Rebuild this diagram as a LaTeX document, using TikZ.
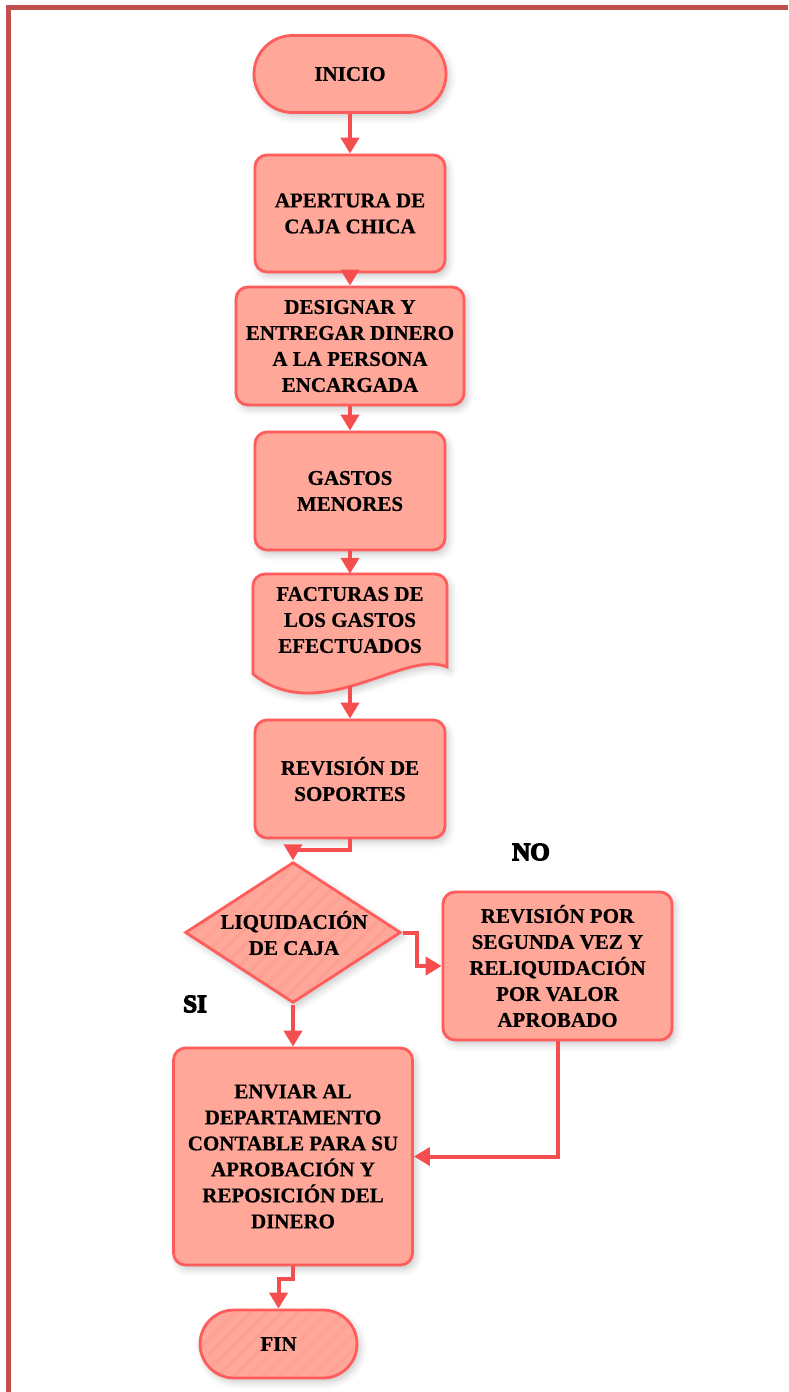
\documentclass[tikz,border=0pt]{standalone}
\usepackage{fontspec}
\setmainfont{Liberation Serif}[BoldFeatures={FakeBold=0.6}]
\newfontfamily\heavyfont{Liberation Serif}[BoldFeatures={FakeBold=5}]
\usetikzlibrary{shapes.geometric,shapes.misc,arrows.meta,shadows.blur,patterns.meta,calc}

\definecolor{framered}{HTML}{C0504D}
\definecolor{boxfill}{HTML}{FFA899}
\definecolor{boxline}{HTML}{FF5C5C}
\definecolor{flow}{HTML}{F44E4E}
\definecolor{stripe}{HTML}{FCA193}

\tikzset{
  base/.style={draw=boxline, fill=boxfill, line width=2.8pt,
    blur shadow={shadow xshift=3pt, shadow yshift=-4pt,
                 shadow blur radius=7pt, shadow opacity=22},
    align=center, inner sep=0pt},
  procbox/.style={base, rectangle, rounded corners=12pt},
  termbox/.style={base, rounded rectangle},
  decbox/.style={base, diamond},
  striped/.style={preaction={fill=boxfill},
    pattern={Lines[angle=45,distance=11pt,line width=3.5pt]},
    pattern color=stripe},
  txt/.style={font=\bfseries\fontsize{21}{26}\selectfont, align=center, inner sep=0pt},
  answer/.style={font=\heavyfont\bfseries\fontsize{25}{30}\selectfont, inner sep=0pt},
  flowline/.style={draw=flow, line width=4pt,
    -{Triangle[length=16pt,width=18pt]}},
  frameline/.style={draw=framered, line width=5pt},
}

\begin{document}
\begin{tikzpicture}[x=1pt, y=-1pt]
  \useasboundingbox (0,0) rectangle (788,1392);

  % outer frame (left and top edges)
  \draw[frameline] (8.5,1392) -- (8.5,7.5) -- (788,7.5);

  % steps of the petty-cash procedure
  \node[termbox, minimum width=192pt, minimum height=77pt] (ini) at (350,74) {};
  \node[txt] (init) at (ini) {INICIO};

  \node[procbox, minimum width=190pt, minimum height=117pt] (ape) at (350,213.5) {};
  \node[txt] (apet) at (ape) {APERTURA DE\\CAJA CHICA};

  \node[procbox, minimum width=228pt, minimum height=118pt] (des) at (350,346) {};
  \node[txt] (dest) at (des) {DESIGNAR Y\\ENTREGAR DINERO\\A LA PERSONA\\ENCARGADA};

  \node[procbox, minimum width=190pt, minimum height=118pt] (gas) at (350,491) {};
  \node[txt] (gast) at (gas) {GASTOS\\MENORES};

  % document shape for the invoices
  \node[minimum width=194pt, minimum height=120pt, inner sep=0pt] (fac) at (350,634) {};
  \path[base] [rounded corners=12pt] (253,674) -- (253,574) -- (447,574)
        [sharp corners] -- (447,667)
        .. controls (405,648) and (320,728) .. (253,674) -- cycle;
  \coordinate (facb) at (350,686);
  \node[txt] (fact) at (350,620) {FACTURAS DE\\LOS GASTOS\\EFECTUADOS};

  \node[procbox, minimum width=190pt, minimum height=118pt] (rev) at (350,779) {};
  \node[txt] (revt) at (rev) {REVISIÓN DE\\SOPORTES};

  \node[decbox, striped, minimum width=216pt, minimum height=141pt] (dec) at (293,932.5) {};
  \node[txt] (dect) at (294,933) {LIQUIDACIÓN\\DE CAJA};

  \node[procbox, minimum width=229pt, minimum height=148pt] (rep) at (557.5,966) {};
  \node[txt] (rept) at (rep) {REVISIÓN POR\\SEGUNDA VEZ Y\\RELIQUIDACIÓN\\POR VALOR\\APROBADO};

  \node[procbox, minimum width=239pt, minimum height=217pt] (env) at (293,1156.5) {};
  \node[txt] (envt) at (env) {ENVIAR AL\\DEPARTAMENTO\\CONTABLE PARA SU\\APROBACIÓN Y\\REPOSICIÓN DEL\\DINERO};

  \node[termbox, striped, minimum width=157pt, minimum height=68pt] (fin) at (278.5,1344) {};
  \node[txt] (fint) at (fin) {FIN};

  % branch answers
  \node[answer] (no) at (531,852) {NO};
  \node[answer] (si) at (195,1004) {SI};

  % connectors
  \draw[flowline] (ini.south) -- (ape.north);
  \draw[flowline] (ape.south) -- (des.north);
  \draw[flowline] (des.south) -- (gas.north);
  \draw[flowline] (gas.south) -- (fac.north);
  \draw[flowline] (facb) -- (rev.north);
  \draw[flowline] (rev.south) -- ++(0,11) -| (dec.north);
  \draw[flowline] (dec.east) -- ++(14,0) |- (rep.west);
  \draw[flowline] (dec.south) -- (env.north);
  \draw[flowline] (rep.south) |- (env.east);
  \draw[flowline] (env.south) -- ++(0,13) -| (fin.north);
\end{tikzpicture}
\end{document}
